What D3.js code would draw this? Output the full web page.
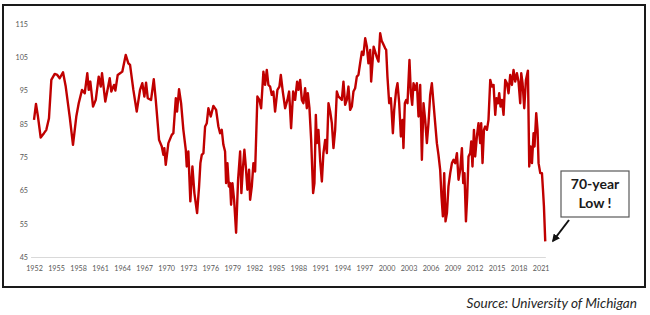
<!DOCTYPE html>
<html>
<head>
<meta charset="utf-8">
<script src="https://cdn.jsdelivr.net/npm/d3@7"></script>
<style>
  body { margin: 0; background: #fff; }
  svg text { font-family: Lato, "Open Sans", sans-serif; }
</style>
</head>
<body>
<div id="chart"></div>
<script>
// tick labels
const yearLabels = [1952, 1955, 1958, 1961, 1964, 1967, 1970, 1973, 1976, 1979, 1982, 1985, 1988,
  1991, 1994, 1997, 2000, 2003, 2006, 2009, 2012, 2015, 2018, 2021];
const valueTicks = [45, 55, 65, 75, 85, 95, 105, 115];

// consumer sentiment (decimal year, index value)
const obsYears = [
  1952.00, 1952.27, 1952.54, 1952.91, 1953.36, 1953.68, 1954.04, 1954.36, 1954.82, 1955.17,
  1955.50, 1955.95, 1956.32, 1956.86, 1957.31, 1957.76, 1958.09, 1958.54, 1958.91, 1959.26,
  1959.45, 1959.67, 1960.04, 1960.41, 1960.81, 1961.09, 1961.26, 1961.71, 1962.31, 1962.53,
  1962.90, 1963.08, 1963.40, 1963.72, 1964.03, 1964.49, 1964.85, 1965.08, 1965.53, 1965.99,
  1966.44, 1966.75, 1967.03, 1967.26, 1967.49, 1967.94, 1968.31, 1968.58, 1969.03, 1969.40,
  1969.62, 1969.75, 1969.94, 1970.30, 1970.76, 1970.98, 1971.31, 1971.48, 1971.75, 1972.03,
  1972.34, 1972.67, 1972.80, 1973.02, 1973.29, 1973.57, 1973.84, 1974.21, 1974.48, 1974.66,
  1974.85, 1975.07, 1975.30, 1975.53, 1975.75, 1976.07, 1976.43, 1976.80, 1977.11, 1977.34,
  1977.57, 1977.79, 1978.02, 1978.16, 1978.34, 1978.53, 1978.70, 1978.84, 1979.02, 1979.25,
  1979.52, 1979.79, 1980.07, 1980.24, 1980.43, 1980.65, 1980.84, 1981.06, 1981.29, 1981.43,
  1981.66, 1981.88, 1982.11, 1982.42, 1982.69, 1982.93, 1983.24, 1983.47, 1983.70, 1983.92,
  1984.15, 1984.38, 1984.60, 1984.83, 1985.15, 1985.42, 1985.61, 1985.88, 1986.20, 1986.51,
  1986.74, 1987.01, 1987.29, 1987.56, 1987.83, 1988.01, 1988.24, 1988.47, 1988.69, 1988.92,
  1989.15, 1989.29, 1989.51, 1989.74, 1990.01, 1990.19, 1990.38, 1990.52, 1990.73, 1990.96,
  1991.20, 1991.41, 1991.65, 1991.88, 1992.10, 1992.33, 1992.56, 1992.78, 1993.01, 1993.24,
  1993.46, 1993.69, 1993.92, 1994.14, 1994.37, 1994.60, 1994.82, 1995.05, 1995.28, 1995.50,
  1995.73, 1995.96, 1996.18, 1996.41, 1996.65, 1996.86, 1997.10, 1997.33, 1997.54, 1997.78,
  1997.91, 1998.09, 1998.25, 1998.69, 1998.91, 1999.14, 1999.34, 1999.51, 1999.82, 1999.96,
  2000.13, 2000.37, 2000.60, 2000.87, 2001.05, 2001.32, 2001.50, 2001.73, 2001.96, 2002.18,
  2002.31, 2002.50, 2002.68, 2002.86, 2003.13, 2003.32, 2003.50, 2003.68, 2003.91, 2004.14,
  2004.36, 2004.59, 2004.82, 2005.04, 2005.27, 2005.50, 2005.72, 2005.95, 2006.18, 2006.40,
  2006.63, 2006.86, 2007.08, 2007.31, 2007.49, 2007.68, 2007.86, 2008.04, 2008.23, 2008.44,
  2008.68, 2008.91, 2009.13, 2009.36, 2009.59, 2009.81, 2010.04, 2010.27, 2010.45, 2010.62,
  2010.82, 2010.99, 2011.17, 2011.40, 2011.54, 2011.71, 2011.91, 2012.08, 2012.31, 2012.53,
  2012.76, 2012.90, 2013.08, 2013.27, 2013.44, 2013.68, 2013.89, 2014.13, 2014.36, 2014.58,
  2014.81, 2014.98, 2015.17, 2015.35, 2015.53, 2015.72, 2015.94, 2016.17, 2016.40, 2016.62,
  2016.85, 2017.08, 2017.30, 2017.53, 2017.76, 2017.98, 2018.21, 2018.35, 2018.53, 2018.76,
  2018.99, 2019.26, 2019.44, 2019.62, 2019.81, 2020.03, 2020.16, 2020.39, 2020.57, 2020.71,
  2020.94, 2021.17, 2021.31, 2021.44, 2021.62
];
const obsValues = [
  86.2, 91.0, 87.2, 80.9, 82.2, 83.2, 86.7, 98.2, 100.0, 99.7,
  98.7, 100.5, 96.2, 87.2, 78.7, 87.2, 91.2, 95.2, 94.2, 100.2,
  95.2, 97.7, 90.2, 92.2, 99.2, 96.2, 100.2, 91.7, 98.7, 94.7,
  96.7, 95.0, 99.7, 100.2, 100.7, 105.7, 103.2, 102.7, 95.2, 88.7,
  95.2, 97.2, 93.2, 97.4, 92.7, 92.2, 98.4, 92.2, 80.2, 78.2,
  75.7, 77.7, 72.7, 79.2, 81.7, 82.2, 92.7, 88.7, 95.4, 91.2,
  83.2, 77.2, 72.2, 76.7, 61.7, 72.2, 64.2, 58.2, 66.2, 73.2,
  75.7, 76.2, 84.2, 85.2, 89.7, 87.2, 90.4, 89.2, 84.2, 82.2,
  83.2, 78.7, 76.7, 67.2, 73.2, 66.2, 67.2, 60.7, 67.2, 62.2,
  52.3, 68.2, 76.7, 64.2, 71.2, 77.2, 72.2, 65.2, 71.2, 62.2,
  66.2, 73.2, 70.7, 93.2, 92.2, 89.7, 100.7, 96.7, 101.2, 96.7,
  96.2, 93.7, 94.7, 88.7, 95.2, 96.2, 99.7, 94.7, 89.7, 92.2,
  94.7, 83.7, 94.7, 92.2, 97.7, 95.2, 98.2, 92.2, 91.2, 95.7,
  89.7, 94.2, 89.7, 80.2, 64.2, 67.2, 87.7, 79.2, 83.2, 74.2,
  67.7, 76.2, 80.2, 76.2, 91.2, 88.7, 85.2, 77.7, 83.2, 94.7,
  93.2, 92.7, 92.2, 97.7, 90.7, 92.2, 96.2, 89.2, 90.2, 94.7,
  95.7, 99.2, 99.7, 103.2, 106.7, 105.7, 110.7, 108.2, 103.2, 107.2,
  97.7, 103.2, 108.2, 105.0, 103.7, 112.2, 110.0, 109.2, 107.7, 107.2,
  99.2, 91.2, 92.7, 82.2, 89.2, 95.2, 97.2, 91.2, 81.2, 86.2,
  77.7, 91.2, 92.2, 91.2, 104.2, 94.2, 90.7, 97.2, 95.2, 97.2,
  87.2, 96.7, 74.2, 91.2, 86.2, 79.2, 85.2, 93.7, 97.2, 91.2,
  85.2, 79.2, 75.7, 71.2, 63.2, 57.2, 70.2, 55.7, 58.2, 66.2,
  70.2, 73.2, 74.2, 73.2, 76.2, 68.2, 71.2, 77.7, 67.2, 70.2,
  55.7, 63.2, 75.2, 76.2, 79.7, 72.2, 83.2, 75.2, 81.2, 85.2,
  79.2, 85.2, 73.2, 83.2, 84.2, 83.2, 86.2, 98.2, 96.2, 96.7,
  87.7, 92.7, 91.2, 94.2, 90.2, 92.2, 87.7, 98.2, 97.2, 94.2,
  99.7, 96.7, 101.2, 97.7, 100.2, 97.7, 91.2, 100.2, 97.2, 89.7,
  98.2, 101.0, 72.2, 78.2, 73.2, 82.2, 78.2, 88.2, 83.2, 73.2,
  70.2, 70.2, 65.2, 60.2, 49.7
];

const calloutLines = ['70-year', 'Low !'];
const sourceNote = 'Source: University of Michigan';

const width = 650;
const height = 315;

const svg = d3.select('#chart')
  .append('svg')
  .attr('width', width)
  .attr('height', height);

// outer frame
svg.append('rect')
  .attr('x', 3)
  .attr('y', 5)
  .attr('width', 642)
  .attr('height', 282)
  .attr('fill', 'none')
  .attr('stroke', '#1a1a1a')
  .attr('stroke-width', 2);

const x = d3.scaleLinear().domain([1952, 2021]).range([34, 540.7]);
const y = d3.scaleLinear().domain([45, 115]).range([257, 24]);

// y labels (no axis line)
const yAxis = svg.append('g')
  .attr('transform', 'translate(28,0)')
  .call(d3.axisLeft(y).tickValues(valueTicks).tickSize(0).tickPadding(0));
yAxis.select('.domain').remove();
yAxis.selectAll('text')
  .attr('font-size', 7.2)
  .attr('fill', '#595959');

// x axis
const xAxis = svg.append('g')
  .attr('transform', `translate(0,${y(45)})`)
  .call(d3.axisBottom(x).tickValues(yearLabels).tickFormat(d3.format('d')).tickSize(0).tickPadding(9));
xAxis.select('.domain')
  .attr('d', `M${x(1951.6)},0.5H${x(2021.7)}`)
  .attr('stroke', '#d9d9d9');
xAxis.selectAll('text')
  .attr('font-size', 7.2)
  .attr('fill', '#595959');

// the series
const line = d3.line()
  .x((d) => x(d[0]))
  .y((d) => y(d[1]));

svg.append('path')
  .datum(obsYears.map((yr, i) => [yr, obsValues[i]]))
  .attr('d', line)
  .attr('fill', 'none')
  .attr('stroke', '#c00000')
  .attr('stroke-width', 2.4)
  .attr('stroke-linejoin', 'round');

// callout box
const box = svg.append('g');
box.append('rect')
  .attr('x', 561)
  .attr('y', 171)
  .attr('width', 68)
  .attr('height', 46)
  .attr('fill', '#fff')
  .attr('stroke', '#595959')
  .attr('stroke-width', 1.2);
box.selectAll('text.callout')
  .data(calloutLines)
  .enter()
  .append('text')
  .attr('class', 'callout')
  .attr('x', 595)
  .attr('y', (d, i) => 189 + i * 19)
  .attr('text-anchor', 'middle')
  .attr('font-size', 14)
  .attr('font-weight', 'bold')
  .attr('fill', '#1a1a1a')
  .text((d) => d);

// arrow pointing at the last value
svg.append('defs')
  .append('marker')
  .attr('id', 'arrowhead')
  .attr('viewBox', '0 0 10 10')
  .attr('refX', 8)
  .attr('refY', 5)
  .attr('markerWidth', 4)
  .attr('markerHeight', 4)
  .attr('orient', 'auto')
  .append('path')
  .attr('d', 'M0,0L10,5L0,10Z')
  .attr('fill', '#111');

svg.append('line')
  .attr('x1', 569)
  .attr('y1', 220)
  .attr('x2', 553)
  .attr('y2', 241)
  .attr('stroke', '#111')
  .attr('stroke-width', 2)
  .attr('marker-end', 'url(#arrowhead)');

// source note
svg.append('text')
  .attr('x', 637)
  .attr('y', 308)
  .attr('text-anchor', 'end')
  .attr('font-size', 13.6)
  .attr('font-style', 'italic')
  .attr('fill', '#262626')
  .text(sourceNote);
</script>
</body>
</html>
